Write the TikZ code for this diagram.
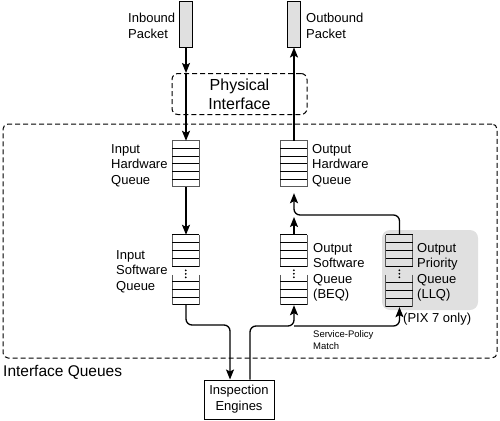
\documentclass[tikz,border=0pt]{standalone}
\usepackage{fontspec}
\setmainfont{Liberation Sans}
\usetikzlibrary{arrows.meta,calc}

\tikzset{
  lbl/.style={anchor=north west, align=left, inner sep=0pt, font=\fontsize{13}{15.5}\selectfont},
  pkt/.style={draw, fill=black!12, line width=0.9pt, minimum width=13pt, minimum height=46pt, inner sep=0pt},
  qnode/.style={draw=none, minimum width=27pt, inner sep=0pt},
  qedge/.style={draw=black!65, line width=0.8pt},
  qline/.style={draw=black, line width=0.8pt},
  arr/.style={line width=1.3pt, -{Stealth[length=10pt,width=8pt,inset=2pt]}},
  dbox/.style={draw, dash pattern=on 5pt off 3pt, line width=1pt},
}

\newcommand\hwqdraw[1]{%
  \begin{scope}[shift={(#1.north west)}]
    \draw[qedge] (0,0) rectangle (27,46);
    \foreach \i in {1,...,5} \draw[qline] (0,{\i*46/6}) -- (27,{\i*46/6});
  \end{scope}}

\newcommand\swqdraw[2]{% name, height
  \begin{scope}[shift={(#1.north west)}]
    \draw[qline] (0,0) -- (27,0);
    \draw[qline] (0,#2) -- (27,#2);
    \draw[qedge] (0,0) -- (0,32) (27,0) -- (27,32);
    \draw[qedge] (0,40) -- (0,#2) (27,40) -- (27,#2);
    \foreach \i in {1,2,3,4,6,7,8} \draw[qline] (0,{\i*#2/9}) -- (27,{\i*#2/9});
    \foreach \d in {35.5,39,42.5} \fill (13.5,\d) circle (1pt);
  \end{scope}}

\begin{document}
\begin{tikzpicture}[x=1pt,y=-1pt]
\useasboundingbox (0,0) rectangle (500,420);

% containers
\node[dbox, rounded corners=5pt, minimum width=494pt, minimum height=234pt, inner sep=0pt] (iq) at (250,241) {};
\node[fill=black!12, rounded corners=8pt, minimum width=96pt, minimum height=80pt, inner sep=0pt] (pbg) at (430,270) {};
\node[dbox, rounded corners=6pt, minimum width=135pt, minimum height=41pt, inner sep=0pt,
      align=center, font=\fontsize{16}{19}\selectfont] (phys) at (239.5,94) {Physical\\Interface};

% packets
\node[pkt] (inb) at (186,24) {};
\node[pkt] (outb) at (294,24) {};

% queues
\node[qnode, minimum height=46pt] (ihw) at (186,164) {};
\node[qnode, minimum height=46pt] (ohw) at (294,164) {};
\node[qnode, minimum height=70pt] (isw) at (186,270) {};
\node[qnode, minimum height=70pt] (osw) at (294,270) {};
\node[qnode, minimum height=72pt] (opq) at (399.5,271) {};
\hwqdraw{ihw}
\hwqdraw{ohw}
\swqdraw{isw}{70}
\swqdraw{osw}{70}
\swqdraw{opq}{72}

% inspection engines
\node[draw, line width=1pt, minimum width=70pt, minimum height=39pt, inner sep=0pt,
      align=center, font=\fontsize{13}{16}\selectfont] (ie) at (239,399.5) {Inspection\\Engines};

% junction coordinates
\coordinate (ja) at (230,325);
\coordinate (jb) at (294,326);
\coordinate (jc) at (294,215);

% connectors
\draw[arr] (inb.south) -- (inb.south |- phys.north);
\draw[arr] (inb.south |- phys.north) -- (ihw.north);
\draw[arr] (ohw.north) -- (outb.south);
\draw[arr] (ihw.south) -- (isw.north);
\draw[arr, rounded corners=6pt] (isw.south) |- (ja) -- (ja |- ie.north);
\draw[arr, rounded corners=6pt] ([xshift=11pt]ie.north) |- (jb) -- (osw.south);
\draw[arr, rounded corners=6pt] (jb) -| (opq.south);
\draw[arr, rounded corners=6pt, shorten >=6pt] (opq.north) |- (jc) -- (ohw.south);
\draw[arr, shorten >=2pt] (osw.north) -- (jc);

% labels
\node[lbl] (tinb) at (128,13) {Inbound\\Packet};
\node[lbl] (toutb) at (306,13) {Outbound\\Packet};
\node[lbl] (tihw) at (111,144) {Input\\Hardware\\Queue};
\node[lbl] (tohw) at (312,144) {Output\\Hardware\\Queue};
\node[lbl] (tisw) at (116,250) {Input\\Software\\Queue};
\node[lbl] (tosw) at (313,243) {Output\\Software\\Queue\\(BEQ)};
\node[lbl] (topq) at (417,243) {Output\\Priority\\Queue\\(LLQ)};
\node[lbl] (tpix) at (403,313) {(PIX 7 only)};
\node[lbl, font=\fontsize{9.5}{12.5}\selectfont] (tsp) at (313,330) {Service-Policy\\Match};
\node[lbl, font=\fontsize{15.5}{18}\selectfont] (tiq) at (3,365) {Interface Queues};
\end{tikzpicture}
\end{document}
